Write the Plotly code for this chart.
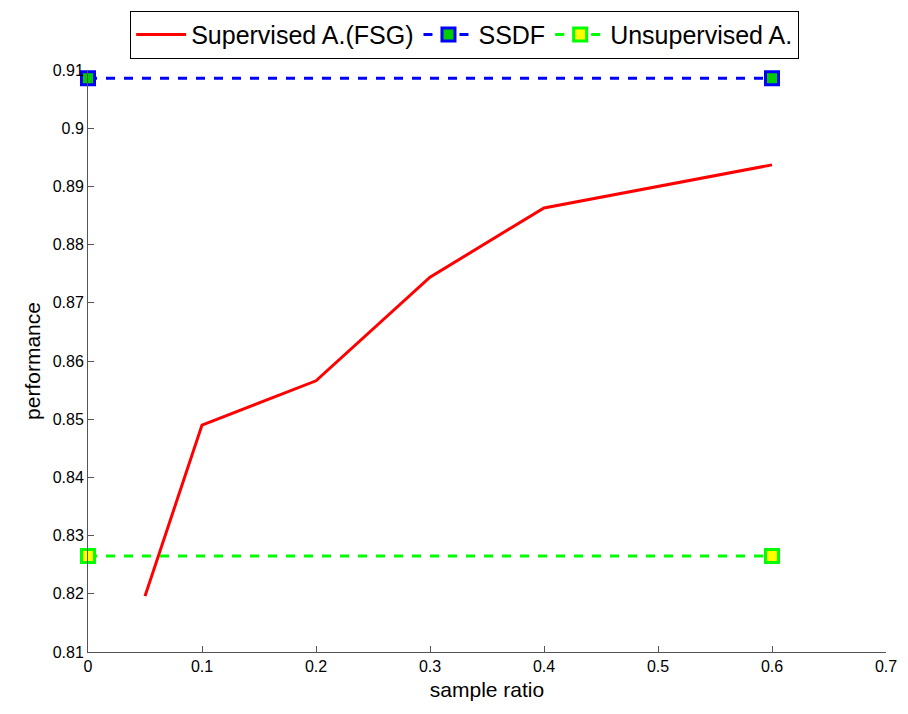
import plotly.graph_objects as go

# Sample ratios and performance for each method
ratio_sup = [0.05, 0.1, 0.2, 0.3, 0.4, 0.6]
perf_sup = [0.8196, 0.8490, 0.8566, 0.8744, 0.8863, 0.8937]

ratio_ref = [0.0, 0.6]
perf_ssdf = [0.9086, 0.9086]
perf_unsup = [0.8265, 0.8265]

x_ticks = [0, 0.1, 0.2, 0.3, 0.4, 0.5, 0.6, 0.7]
x_tick_text = ["0", "0.1", "0.2", "0.3", "0.4", "0.5", "0.6", "0.7"]
y_ticks = [0.81, 0.82, 0.83, 0.84, 0.85, 0.86, 0.87, 0.88, 0.89, 0.90, 0.91]
y_tick_text = ["0.81", "0.82", "0.83", "0.84", "0.85", "0.86", "0.87", "0.88", "0.89", "0.9", "0.91"]

FONT = "Liberation Sans, Arial, sans-serif"

fig = go.Figure()
fig.add_trace(go.Scatter(
    x=ratio_sup, y=perf_sup, mode="lines", name="Supervised A.(FSG)",
    line=dict(color="#ff0000", width=3),
))
fig.add_trace(go.Scatter(
    x=ratio_ref, y=perf_ssdf, mode="lines+markers", name="SSDF",
    line=dict(color="#0000ff", width=3, dash="dash"),
    marker=dict(symbol="square", size=13, color="#00cc00",
                line=dict(color="#0000ff", width=3)),
    cliponaxis=False,
))
fig.add_trace(go.Scatter(
    x=ratio_ref, y=perf_unsup, mode="lines+markers", name="Unsupervised A.",
    line=dict(color="#00ff00", width=3, dash="dash"),
    marker=dict(symbol="square", size=13, color="#ffff00",
                line=dict(color="#00ff00", width=3)),
    cliponaxis=False,
))

fig.update_layout(
    width=908, height=714,
    margin=dict(l=88, r=22, t=70, b=62, autoexpand=False),
    paper_bgcolor="white", plot_bgcolor="white",
    font=dict(family=FONT, size=16, color="black"),
    showlegend=True,
    legend=dict(
        orientation="h", x=0.472, xanchor="center", y=0.985, yanchor="top",
        yref="container",
        bgcolor="white", bordercolor="black", borderwidth=1,
        font=dict(family=FONT, size=25, color="black"),
        itemwidth=50, tracegroupgap=0,
    ),
    xaxis=dict(
        range=[0, 0.7], tickvals=x_ticks, ticktext=x_tick_text,
        showgrid=False, zeroline=False, showline=True, linecolor="#555555",
        linewidth=1, ticks="inside", ticklen=6, tickcolor="#555555",
        title=dict(text="sample ratio", font=dict(size=21), standoff=8),
    ),
    yaxis=dict(
        range=[0.81, 0.91], tickvals=y_ticks, ticktext=y_tick_text,
        showgrid=False, zeroline=False, showline=True, linecolor="#555555",
        linewidth=1, ticks="inside", ticklen=6, tickcolor="#555555",
        title=dict(text="performance", font=dict(size=21), standoff=6),
    ),
)

fig.write_html("out.html")
